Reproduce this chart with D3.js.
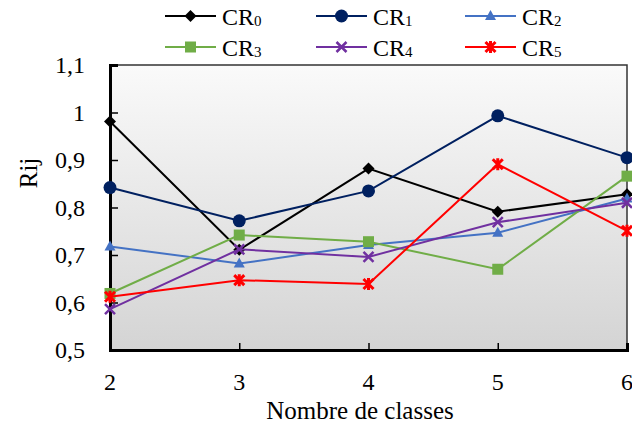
<html lang="fr">
<head>
    <meta charset="utf-8">
    <title>Rij vs Nombre de classes</title>
    <script type="text/javascript" src="https://cdn.jsdelivr.net/npm/d3@7"></script>
    <style>
        body { margin: 0; background: #fff; }
    </style>
</head>
<body>
<script type="text/javascript">
    // data
    var classes = [2, 3, 4, 5, 6];
    var yTicks = [0.5, 0.6, 0.7, 0.8, 0.9, 1, 1.1];
    var seriesNames = ["0", "1", "2", "3", "4", "5"];
    var cr0 = [0.981, 0.711, 0.882, 0.791, 0.828];
    var cr1 = [0.842, 0.772, 0.835, 0.993, 0.905];
    var cr2 = [0.718, 0.682, 0.721, 0.747, 0.819];
    var cr3 = [0.619, 0.742, 0.728, 0.670, 0.866];
    var cr4 = [0.586, 0.712, 0.696, 0.769, 0.810];
    var cr5 = [0.612, 0.647, 0.639, 0.891, 0.751];
    var seriesValues = [cr0, cr1, cr2, cr3, cr4, cr5];
    var colors = ["#000000", "#002060", "#4472C4", "#70AD47", "#7030A0", "#FF0000"];
    var shapes = ["diamond", "circle", "triangle", "square", "cross", "star"];

    var w = 632, h = 425;
    var margin = {left: 110, right: 5, top: 65, bottom: 75};
    var serif = "Liberation Serif";

    var svg = d3.select("body").append("svg")
        .attr("width", w)
        .attr("height", h)
        .attr("font-family", serif);

    var x = d3.scaleLinear().domain([2, 6]).range([margin.left, w - margin.right]);
    var y = d3.scaleLinear().domain([0.5, 1.1]).range([h - margin.bottom, margin.top]);

    // plot background gradient
    var grad = svg.append("defs").append("linearGradient")
        .attr("id", "bg").attr("x1", 0).attr("y1", 0).attr("x2", 0).attr("y2", 1);
    grad.append("stop").attr("offset", "0%").attr("stop-color", "#fafafa");
    grad.append("stop").attr("offset", "100%").attr("stop-color", "#d4d4d4");

    svg.append("rect")
        .attr("x", x(2)).attr("y", y(1.1))
        .attr("width", x(6) - x(2)).attr("height", y(0.5) - y(1.1))
        .attr("fill", "url(#bg)")
        .attr("stroke", "#333")
        .attr("stroke-width", 1.5);

    var fmt = function(d) { return String(d).replace(".", ","); };

    // y axis, ticks inward
    var yAxis = svg.append("g")
        .attr("transform", "translate(" + x(2) + ",0)")
        .call(d3.axisRight(y).tickValues(yTicks).tickSize(8).tickFormat(""));
    yAxis.select(".domain").attr("stroke", "#000").attr("stroke-width", 3);
    yAxis.selectAll(".tick line").attr("stroke", "#000").attr("stroke-width", 1.5);

    svg.append("g").selectAll("text")
        .data(yTicks).enter().append("text")
        .attr("x", 85)
        .attr("y", function(d) { return y(d); })
        .attr("dy", "0.35em")
        .attr("text-anchor", "end")
        .attr("font-family", serif)
        .attr("font-size", "24px")
        .text(fmt);

    // x axis, ticks inward
    var xAxis = svg.append("g")
        .attr("transform", "translate(0," + y(0.5) + ")")
        .call(d3.axisTop(x).tickValues(classes).tickSize(7).tickFormat(""));
    xAxis.select(".domain").attr("stroke", "#000").attr("stroke-width", 3);
    xAxis.selectAll(".tick line").attr("stroke", "#000").attr("stroke-width", 1.5);

    svg.append("g").selectAll("text")
        .data(classes).enter().append("text")
        .attr("x", function(d) { return x(d); })
        .attr("y", 390)
        .attr("text-anchor", "middle")
        .attr("font-family", serif)
        .attr("font-size", "24px")
        .text(function(d) { return d; });

    svg.append("text")
        .attr("x", 360).attr("y", 419)
        .attr("text-anchor", "middle")
        .attr("font-family", serif)
        .attr("font-size", "25px")
        .text("Nombre de classes");

    svg.append("text")
        .attr("transform", "translate(37,173) rotate(-90)")
        .attr("text-anchor", "middle")
        .attr("font-family", serif)
        .attr("font-size", "25px")
        .text("Rij");

    function drawMarker(g, shape, color) {
        if (shape == "diamond") {
            g.append("path").attr("d", "M0,-6L6,0L0,6L-6,0Z").attr("fill", color);
        } else if (shape == "circle") {
            g.append("circle").attr("r", 6.5).attr("fill", color);
        } else if (shape == "triangle") {
            g.append("path").attr("d", "M0,-6L5.5,4L-5.5,4Z").attr("fill", color);
        } else if (shape == "square") {
            g.append("rect").attr("x", -5.5).attr("y", -5.5).attr("width", 11).attr("height", 11).attr("fill", color);
        } else if (shape == "cross") {
            g.append("path").attr("d", "M-5,-5L5,5M5,-5L-5,5").attr("stroke", color).attr("stroke-width", 2.5);
        } else if (shape == "star") {
            g.append("path").attr("d", "M-5,-5L5,5M5,-5L-5,5M0,-6L0,6").attr("stroke", color).attr("stroke-width", 3);
        }
    }

    var line = d3.line()
        .x(function(d, i) { return x(classes[i]); })
        .y(function(d) { return y(d); });

    seriesValues.forEach(function(vals, s) {
        var g = svg.append("g");
        g.append("path")
            .attr("d", line(vals))
            .attr("fill", "none")
            .attr("stroke", colors[s])
            .attr("stroke-width", 2);
        vals.forEach(function(v, i) {
            var m = g.append("g").attr("transform", "translate(" + x(classes[i]) + "," + y(v) + ")");
            drawMarker(m, shapes[s], colors[s]);
        });
    });

    // legend, 3 columns x 2 rows
    var legX = [165, 316, 465];
    var legY = [16, 47];
    seriesNames.forEach(function(name, s) {
        var lx = legX[s % 3], ly = legY[Math.floor(s / 3)];
        var g = svg.append("g").attr("transform", "translate(" + lx + "," + ly + ")");
        g.append("line").attr("x1", 0).attr("x2", 51).attr("y1", 0).attr("y2", 0)
            .attr("stroke", colors[s]).attr("stroke-width", 2);
        drawMarker(g.append("g").attr("transform", "translate(25.5,0)"), shapes[s], colors[s]);
        var t = g.append("text").attr("x", 57).attr("y", 9)
            .attr("font-family", serif).attr("font-size", "24px");
        t.append("tspan").text("CR");
        t.append("tspan").attr("font-size", "15px").attr("dy", 1).text(name);
    });
</script>
</body>
</html>
